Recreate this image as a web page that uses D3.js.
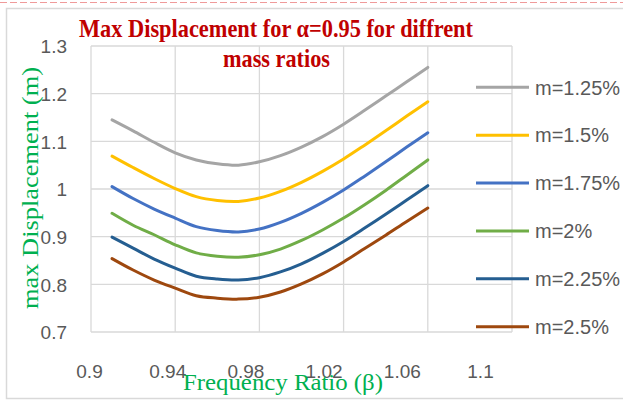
<!DOCTYPE html>
<html>
<head>
<meta charset="utf-8">
<script src="https://cdn.jsdelivr.net/npm/d3@7"></script>
<style>
  html, body { margin: 0; padding: 0; background: #fff; }
  svg { display: block; }
</style>
</head>
<body>
<svg id="chart" width="623" height="401"></svg>
<script>
// ---- data ----
const beta = [0.91, 0.92, 0.93, 0.94, 0.95, 0.96, 0.97, 0.98, 0.99, 1.00, 1.01, 1.02, 1.03, 1.04, 1.05, 1.06];
const seriesNames = ["m=1.25%", "m=1.5%", "m=1.75%", "m=2%", "m=2.25%", "m=2.5%"];
const m125 = [1.145, 1.122, 1.098, 1.076, 1.061, 1.053, 1.050, 1.057, 1.070, 1.088, 1.110, 1.136, 1.165, 1.195, 1.225, 1.255];
const m150 = [1.069, 1.045, 1.022, 1.001, 0.984, 0.976, 0.974, 0.981, 0.995, 1.014, 1.037, 1.063, 1.092, 1.122, 1.153, 1.183];
const m175 = [1.005, 0.980, 0.958, 0.939, 0.921, 0.913, 0.910, 0.916, 0.930, 0.949, 0.972, 0.998, 1.027, 1.057, 1.088, 1.118];
const m200 = [0.949, 0.924, 0.904, 0.883, 0.866, 0.859, 0.857, 0.862, 0.874, 0.892, 0.914, 0.939, 0.967, 0.997, 1.029, 1.061];
const m225 = [0.899, 0.876, 0.853, 0.834, 0.817, 0.811, 0.809, 0.814, 0.826, 0.843, 0.865, 0.890, 0.918, 0.947, 0.977, 1.007];
const m250 = [0.854, 0.830, 0.809, 0.792, 0.776, 0.771, 0.769, 0.773, 0.784, 0.801, 0.822, 0.847, 0.875, 0.903, 0.932, 0.960];
const xTicks = [0.9, 0.94, 0.98, 1.02, 1.06, 1.1];
const yTicks = [0.7, 0.8, 0.9, 1.0, 1.1, 1.2, 1.3];
const xTickLabels = ["0.9", "0.94", "0.98", "1.02", "1.06", "1.1"];
const yTickLabels = ["0.7", "0.8", "0.9", "1", "1.1", "1.2", "1.3"];
const colors = ["#a5a5a5", "#ffc000", "#4472c4", "#70ad47", "#255e91", "#9e480e"];

const allSeries = [m125, m150, m175, m200, m225, m250];

// ---- layout ----
const svg = d3.select("#chart");
const plot = { left: 91, right: 512, top: 46, bottom: 332 };

const x = d3.scaleLinear().domain([0.9, 1.1]).range([plot.left, plot.right]);
const xLab = d3.scaleLinear().domain([0.9, 1.1]).range([89, 480]);
const y = d3.scaleLinear().domain([0.7, 1.3]).range([plot.bottom, plot.top]);

// outer chart border + top dashed line
svg.append("line").attr("x1", 0).attr("x2", 623).attr("y1", 2.5).attr("y2", 2.5)
  .attr("stroke", "#ef9a9a").attr("stroke-width", 1).attr("stroke-dasharray", "7,3");
svg.append("rect").attr("x", 6.5).attr("y", 8.5).attr("width", 640).attr("height", 390)
  .attr("fill", "#fff").attr("stroke", "#d9d9d9").attr("stroke-width", 1.5);

// gridlines
svg.append("g").selectAll("line.h").data(yTicks).join("line")
  .attr("x1", plot.left).attr("x2", plot.right)
  .attr("y1", d => y(d)).attr("y2", d => y(d))
  .attr("stroke", "#d9d9d9").attr("stroke-width", 1.3);
svg.append("g").selectAll("line.v").data(xTicks).join("line")
  .attr("x1", d => x(d)).attr("x2", d => x(d))
  .attr("y1", plot.top).attr("y2", plot.bottom)
  .attr("stroke", "#d9d9d9").attr("stroke-width", 1.3);

// y axis labels
const yAxis = d3.axisLeft(y).tickValues(yTicks).tickSize(0).tickPadding(0)
  .tickFormat((d, i) => yTickLabels[i]);
const gy = svg.append("g").attr("transform", "translate(67,0)").call(yAxis);
gy.select(".domain").remove();
gy.selectAll("text").attr("font-family", "'Liberation Sans', Arial, sans-serif")
  .attr("font-size", 19).attr("fill", "#595959").attr("dy", "0.36em");

// x axis labels
const xAxis = d3.axisBottom(xLab).tickValues(xTicks).tickSize(0).tickPadding(0)
  .tickFormat((d, i) => xTickLabels[i]);
const gx = svg.append("g").attr("transform", "translate(0,371)").call(xAxis);
gx.select(".domain").remove();
gx.selectAll("text").attr("font-family", "'Liberation Sans', Arial, sans-serif")
  .attr("font-size", 19).attr("fill", "#595959").attr("dy", "0.36em");

// lines
const line = d3.line()
  .x((d, i) => x(beta[i]))
  .y(d => y(d))
  .curve(d3.curveCatmullRom.alpha(0.5));
svg.append("g").selectAll("path").data(allSeries).join("path")
  .attr("d", d => line(d))
  .attr("fill", "none")
  .attr("stroke", (d, i) => colors[i])
  .attr("stroke-width", 3)
  .attr("stroke-linecap", "round");

// legend
const legY = d3.scalePoint().domain(seriesNames).range([87.3, 326.7]);
const leg = svg.append("g").selectAll("g").data(seriesNames).join("g")
  .attr("transform", d => `translate(0,${legY(d)})`);
leg.append("line").attr("x1", 476).attr("x2", 529).attr("y1", 0).attr("y2", 0)
  .attr("stroke", (d, i) => colors[i]).attr("stroke-width", 3);
leg.append("text").attr("x", 535).attr("y", 0).attr("dy", "0.36em")
  .attr("font-family", "'Liberation Sans', Arial, sans-serif")
  .attr("font-size", 20).attr("fill", "#595959").text(d => d);

// title
const titleFont = "'Liberation Serif', 'Times New Roman', serif";
svg.append("text").attr("x", 79).attr("y", 37)
  .attr("font-family", titleFont).attr("font-weight", "bold").attr("font-size", 25)
  .attr("fill", "#c00000").attr("textLength", 394).attr("lengthAdjust", "spacingAndGlyphs")
  .text("Max Displacement for α=0.95 for diffrent");
svg.append("text").attr("x", 223).attr("y", 67)
  .attr("font-family", titleFont).attr("font-weight", "bold").attr("font-size", 25)
  .attr("fill", "#c00000").attr("textLength", 107).attr("lengthAdjust", "spacingAndGlyphs")
  .text("mass ratios");

// axis titles
svg.append("text").attr("x", 283).attr("y", 390).attr("text-anchor", "middle")
  .attr("font-family", titleFont).attr("font-size", 24).attr("fill", "#00b050")
  .attr("textLength", 200).attr("lengthAdjust", "spacingAndGlyphs")
  .text("Frequency Ratio (β)");
svg.append("text").attr("transform", "translate(38,188) rotate(-90)")
  .attr("text-anchor", "middle")
  .attr("font-family", titleFont).attr("font-size", 24).attr("fill", "#00b050")
  .attr("textLength", 242).attr("lengthAdjust", "spacingAndGlyphs")
  .text("max Displacement (m)");
</script>
</body>
</html>
